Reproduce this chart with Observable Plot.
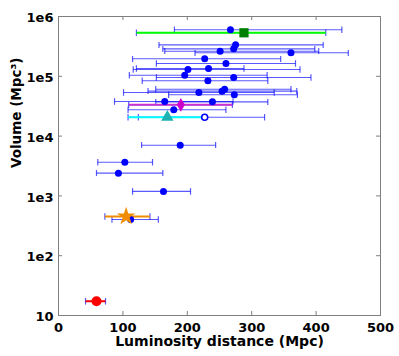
<!DOCTYPE html>
<html><head><meta charset="utf-8">
<script src="https://cdn.jsdelivr.net/npm/d3@7"></script>
<script src="https://cdn.jsdelivr.net/npm/@observablehq/plot@0.6"></script>
<style>html,body{margin:0;padding:0;background:#fff}</style>
</head><body><div id="chart"></div>
<script>
// Blue candidate points: luminosity distance (Mpc), volume (Mpc^3), distance error range
const distance = [267,275,272,251,361,227,260,233,201,196,272,232,258,254,218,273,165,239,179,227,189,103,93,163,112];
const volume   = [6.0e5,3.36e5,2.88e5,2.63e5,2.47e5,1.96e5,1.64e5,1.35e5,1.30e5,1.04e5,9.55e4,8.41e4,6.08e4,5.64e4,5.36e4,4.91e4,3.79e4,3.74e4,2.76e4,2.07e4,7.05e3,3.66e3,2.40e3,1.19e3,403];
const distLow  = [180,156,162,165,212,115,152,121,116,110,152,130,151,139,101,171,87,151,108,124,129,61,59,115,83];
const distHigh = [440,411,398,404,450,345,368,288,375,324,392,325,361,370,335,371,271,325,260,320,244,146,162,205,155];
const hollowPoints = [19];

// Highlighted events
const specialName     = ["E1","E2","E3","E4","E5"];
const specialDistance = [288,190,169,105,59];
const specialVolume   = [5.34e5,3.33e4,2.07e4,453,17.3];
const specialLow      = [121,109,108,72,42];
const specialHigh     = [415,270,227,142,73];

// Axis ticks
const xTicks = [0,100,200,300,400,500];
const yTicks = [10,100,1e3,1e4,1e5,1e6];
const yTickLabels = ["10","1e2","1e3","1e4","1e5","1e6"];

// Styles (not data)
const specialStyle = {
  E1: {symbol:"square",   fill:"#007f00", line:"#00ff00", r:5.2},
  E2: {symbol:"diamond",  fill:"#cc00cc", line:"#cc33cc", r:4.2},
  E3: {symbol:"triangle", fill:"#1fb2b2", line:"#00ffff", r:4.6},
  E4: {symbol:"star",     fill:"#f08c00", line:"#f08c00", r:5.8},
  E5: {symbol:"circle",   fill:"#ff0000", line:"#ff0000", r:5}
};

const pts = distance.map((d,i)=>({x:d, y:volume[i], lo:distLow[i], hi:distHigh[i], hollow:hollowPoints.includes(i)}));
const sp = specialName.map((n,i)=>({name:n, x:specialDistance[i], y:specialVolume[i], lo:specialLow[i], hi:specialHigh[i], ...specialStyle[n]}));

const W = 399, H = 356, ML = 58, MR = 19, MT = 16, MB = 41;
const PW = W-ML-MR, PH = H-MT-MB, T = 4;
const frameGray = "#7f7f7f";

const marks = [
  Plot.frame({stroke: frameGray}),
  // inward ticks
  Plot.tickX(xTicks, {x: d=>d, stroke: frameGray, insetTop: PH-T}),
  Plot.tickX(xTicks, {x: d=>d, stroke: frameGray, insetBottom: PH-T}),
  Plot.tickY(yTicks, {y: d=>d, stroke: frameGray, insetRight: PW-T}),
  Plot.tickY(yTicks, {y: d=>d, stroke: frameGray, insetLeft: PW-T}),
  Plot.axisX({ticks: xTicks, tickSize: 0, tickPadding: 7, label: null, tickFormat: d3.format("d")}),
  Plot.axisY({ticks: yTicks, tickSize: 0, tickPadding: 5, label: null, dy: 1.5, tickFormat: d => yTickLabels[yTicks.indexOf(d)]}),
  Plot.text(["Luminosity distance (Mpc)"], {frameAnchor: "bottom", dy: 30, fontSize: 14}),
  Plot.text(["Volume (Mpc³)"], {frameAnchor: "left", rotate: -90, dx: -42, dy: 2, fontSize: 13.5}),
  // blue error bars
  Plot.link(pts, {x1: "lo", x2: "hi", y1: "y", y2: "y", stroke: "#0000ff", strokeOpacity: 0.65, strokeWidth: 1.1, markerStart: "tick", markerEnd: "tick"}),
  // special error bars: blue caps then coloured line
  Plot.link(sp, {x1: "lo", x2: "hi", y1: "y", y2: "y", stroke: "#0000ff", strokeOpacity: 0.65, strokeWidth: 1.1, markerStart: "tick", markerEnd: "tick"}),
  Plot.link(sp, {x1: "lo", x2: "hi", y1: "y", y2: "y", stroke: d => d.line, strokeWidth: 2}),
  // blue points
  Plot.dot(pts.filter(d=>!d.hollow), {x: "x", y: "y", r: 3.5, fill: "#0000ff"}),
  Plot.dot(pts.filter(d=>d.hollow), {x: "x", y: "y", r: 3, fill: "#ffffff", stroke: "#0000ff", strokeWidth: 1.6}),
  // special markers
  ...sp.map(d => Plot.dot([d], {x: "x", y: "y", r: d.r, symbol: d.symbol, fill: d.fill}))
];

const chart = Plot.plot({
  width: W, height: H,
  marginLeft: ML, marginRight: MR, marginTop: MT, marginBottom: MB,
  style: {fontFamily: "'DejaVu Sans', sans-serif", fontWeight: "bold", fontSize: "13px", color: "#000", background: "#fff", overflow: "visible"},
  x: {domain: [0, 500]},
  y: {type: "log", domain: [10, 1e6]},
  marks
});
document.getElementById("chart").appendChild(chart);
</script>
</body></html>
